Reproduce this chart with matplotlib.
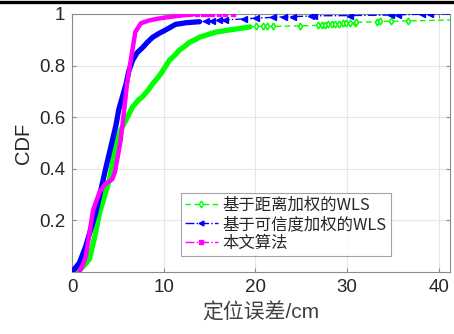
import matplotlib
matplotlib.use("Agg")
import matplotlib.pyplot as plt
from matplotlib.lines import Line2D

# ---- data (error in cm, CDF) ----
# distance-weighted WLS
g_body_x = [0.6, 1.2, 1.9, 2.5, 3.0, 3.6, 4.1, 4.5, 4.8, 5.3, 5.9, 6.6, 7.2, 7.7, 8.3, 8.8, 9.4, 9.9,
            10.6, 11.2, 11.7, 12.3, 12.8, 13.4, 13.9, 14.8, 15.7, 16.6, 17.5, 18.5, 19.4]
g_body_y = [0.0, 0.02, 0.05, 0.14, 0.23, 0.30, 0.36, 0.44, 0.50, 0.55, 0.59, 0.64, 0.665, 0.68, 0.705, 0.73, 0.755, 0.78,
            0.82, 0.84, 0.86, 0.875, 0.89, 0.90, 0.91, 0.92, 0.93, 0.935, 0.94, 0.945, 0.95]
g_tail_x = [20.1, 20.8, 21.3, 21.9, 24.8, 26.8, 27.2, 27.6, 27.9, 28.3, 28.7, 29.1, 29.5, 29.9, 30.3, 30.8,
            31.0, 33.2, 33.6, 34.8, 36.6, 45.0]
g_tail_y = [0.952, 0.952, 0.952, 0.952, 0.954, 0.956, 0.957, 0.958, 0.96, 0.961, 0.962, 0.963, 0.964, 0.965, 0.966, 0.967,
            0.968, 0.97, 0.971, 0.972, 0.973, 0.98]

# credibility-weighted WLS
b_body_x = [0.0, 0.8, 1.5, 2.0, 2.6, 3.1, 3.6, 4.0, 4.4, 4.8, 5.1, 5.5, 5.9, 6.2, 6.6, 7.1, 7.7, 8.2, 8.8,
            9.5, 10.3, 10.8, 11.3, 11.9, 12.4, 13.1, 13.9]
b_body_y = [0.0, 0.035, 0.10, 0.16, 0.23, 0.31, 0.39, 0.45, 0.51, 0.57, 0.63, 0.68, 0.73, 0.78, 0.82, 0.85, 0.87, 0.89, 0.91,
            0.925, 0.94, 0.95, 0.96, 0.963, 0.966, 0.968, 0.97]
b_tail_x = [14.6, 15.3, 16.0, 16.7, 18.8, 20.1, 21.9, 23.1, 24.1, 26.0, 26.4, 30.3, 34.8, 35.5, 38.1, 39.0]
b_tail_y = [0.972, 0.974, 0.976, 0.977, 0.981, 0.984, 0.987, 0.989, 0.99, 0.992, 0.993, 0.994, 0.996, 0.997, 0.999, 1.0]

# proposed algorithm
m_body_x = [0.8, 1.2, 1.5, 1.9, 2.3, 2.7, 3.0, 3.6, 4.0, 4.4, 4.7, 4.9, 5.1, 5.3, 5.6, 6.0, 6.4, 6.9, 7.5,
            8.4, 9.4, 10.3, 11.2, 12.1, 13.2]
m_body_y = [0.0, 0.03, 0.06, 0.15, 0.24, 0.28, 0.31, 0.34, 0.35, 0.36, 0.39, 0.43, 0.47, 0.51, 0.60, 0.73, 0.82, 0.93, 0.964,
            0.975, 0.982, 0.987, 0.991, 0.995, 0.998]
m_tail_x = [13.6, 14.3, 14.8, 15.3, 16.0, 16.7, 17.5]
m_tail_y = [0.999, 0.999, 1.0, 1.0, 1.0, 1.0, 1.0]

labels = ["基于距离加权的WLS", "基于可信度加权的WLS", "本文算法"]
xticks = [0, 10, 20, 30, 40]
yticks = [0.2, 0.4, 0.6, 0.8, 1.0]
yticklabels = ["0.2", "0.4", "0.6", "0.8", "1"]

plt.rcParams['font.family'] = ['Liberation Sans', 'Noto Sans CJK SC', 'DejaVu Sans']
txt = '#262626'

fig = plt.figure(figsize=(4.54, 3.34), dpi=100)
ax = fig.add_axes([72 / 454, 1 - 272 / 334, (450 - 72) / 454, (272 - 14) / 334])

GREEN, BLUE, MAG = '#00ff00', '#0000ff', '#ff00ff'

# green
ax.plot(g_body_x, g_body_y, color=GREEN, lw=3.8, solid_capstyle='round', zorder=3)
ax.plot(g_body_x + g_tail_x, g_body_y + g_tail_y, color=GREEN, lw=1, ls=(0, (4, 2.5)), zorder=3)
ax.plot(g_tail_x, g_tail_y, ls='none', marker='d', ms=3.5, mfc='white', mec=GREEN, mew=1.1, zorder=4)
# blue
ax.plot(b_body_x, b_body_y, color=BLUE, lw=3.8, solid_capstyle='round', zorder=5)
ax.plot(b_body_x + b_tail_x + [42], b_body_y + b_tail_y + [1.0], color=BLUE, lw=1, ls='-.', zorder=5)
ax.plot(b_tail_x, b_tail_y, ls='none', marker='<', ms=4, mfc=BLUE, mec=BLUE, zorder=6)
# magenta
ax.plot(m_body_x, m_body_y, color=MAG, lw=3.2, solid_capstyle='round', zorder=7)
ax.plot(m_body_x + m_tail_x, m_body_y + m_tail_y, color=MAG, lw=1, ls='-.', zorder=7)
ax.plot(m_tail_x, m_tail_y, ls='none', marker='s', ms=2.6, mfc=MAG, mec=MAG, zorder=8)

ax.set_xlim(0, 41.2)
ax.set_ylim(0, 1)
ax.set_xticks(xticks)
ax.set_yticks(yticks)
ax.set_yticklabels(yticklabels)
ax.grid(True, color='#e6e6e6', lw=0.8)
ax.set_axisbelow(True)
for s in ax.spines.values():
    s.set_color('#8c8c8c')
    s.set_linewidth(0.8)
ax.tick_params(direction='in', length=3, color='#8c8c8c', labelsize=13.5, labelcolor=txt,
               top=True, right=True, pad=5)
ax.set_xlabel("定位误差/cm", fontsize=15, color='#404040', labelpad=5)
ax.set_ylabel("CDF", fontsize=14.5, color=txt, labelpad=4)

handles = [
    Line2D([], [], color=GREEN, lw=1, ls=(0, (4, 2.5)), marker='d', ms=3.5, mfc='white', mec=GREEN),
    Line2D([], [], color=BLUE, lw=1, ls='-.', marker='<', ms=3.5, mfc=BLUE, mec=BLUE),
    Line2D([], [], color=MAG, lw=1, ls='-.', marker='s', ms=2.6, mfc=MAG, mec=MAG),
]
leg = ax.legend(handles, labels, loc='lower left', bbox_to_anchor=(0.288, 0.062, 0.555, 0.27),
                mode='expand', frameon=True, fancybox=False, handlelength=2.0,
                handletextpad=0.3, borderpad=0.25, labelspacing=0.12, borderaxespad=0,
                prop={'family': ['Noto Sans CJK SC', 'DejaVu Sans'], 'size': 11.8})
leg.get_frame().set_edgecolor('#8c8c8c')
leg.get_frame().set_linewidth(0.8)
for t in leg.get_texts():
    t.set_color(txt)

# black band at the very top of the picture
fig.add_artist(Line2D([0, 1], [1 - 1.5 / 334, 1 - 1.5 / 334], color='black', lw=2.4,
                      transform=fig.transFigure))

fig.savefig("out.png", dpi=100)
